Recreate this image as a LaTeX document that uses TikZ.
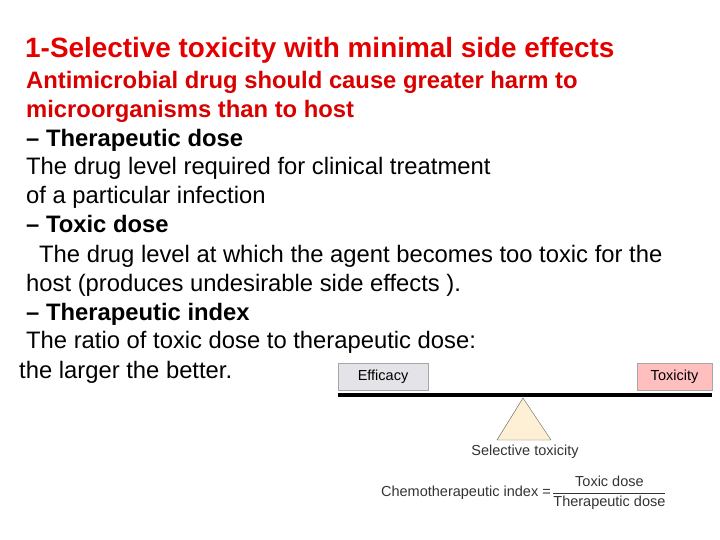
\documentclass[tikz,border=0pt]{standalone}
\usepackage{fontspec}
\setmainfont{Liberation Sans}
\usetikzlibrary{positioning}

\begin{document}
\begin{tikzpicture}[x=1pt, y=-1pt]
\tikzset{
  line/.style = {anchor=base west, inner sep=0pt, font=\fontsize{23.8}{28}\selectfont},
  head/.style = {line, font=\fontsize{23.8}{28}\selectfont\bfseries},
  scalebox/.style = {draw=gray!70, minimum height=27pt, inner sep=0pt,
    font=\fontsize{14.5}{17}\selectfont},
  small/.style = {inner sep=0pt, font=\fontsize{14.5}{17}\selectfont, text=black!80}
}
\useasboundingbox (0,0) rectangle (720,540);

 \node [head, text=red!90!black, font=\fontsize{27.9}{32}\selectfont\bfseries] (title) at (25,58) {1-Selective toxicity with minimal side effects};
 \node [head, text=red!85!black] (anti1) at (26,89) {Antimicrobial drug should cause greater harm to};
 \node [head, text=red!85!black] (anti2) at (26,118) {microorganisms than to host};
 \node [head] (thd) at (26,147) {-- Therapeutic dose};
 \node [line] (thd1) at (26,175) {The drug level required for clinical treatment};
 \node [line] (thd2) at (26,204) {of a particular infection};
 \node [head] (txd) at (26,233) {-- Toxic dose};
 \node [line] (txd1) at (39,262) {The drug level at which the agent becomes too toxic for the};
 \node [line] (txd2) at (26,291) {host (produces undesirable side effects ).};
 \node [head] (thi) at (26,320) {-- Therapeutic index};
 \node [line] (thi1) at (26,348) {The ratio of toxic dose to therapeutic dose:};
 \node [line] (thi2) at (19,378) {the larger the better.};

 % balance
 \node [scalebox, fill=blue!10!gray!20, minimum width=90pt] (efficacy) at (383,377) {Efficacy};
 \node [scalebox, fill=red!25, minimum width=75pt] (toxicity) at (674.5,377) {Toxicity};
 \coordinate (beamL) at (338,395);
 \coordinate (beamR) at (712,395);
 \draw [line width=4pt] (beamL) -- (beamR);
 \coordinate (apex) at (523,398);
 \draw [fill=yellow!30!orange!15, draw=gray!70!black] (apex) -- (551,440) -- (497,440) -- cycle;
 \node [small] (selective) at (525,452) {Selective toxicity};

 \node [small, anchor=east] (index) at (551,493) {Chemotherapeutic index =};
 \node [small, anchor=west] (frac) at (552,493)
   {$\displaystyle\frac{\mbox{Toxic dose}}{\mbox{Therapeutic dose}}$};
\end{tikzpicture}
\end{document}
